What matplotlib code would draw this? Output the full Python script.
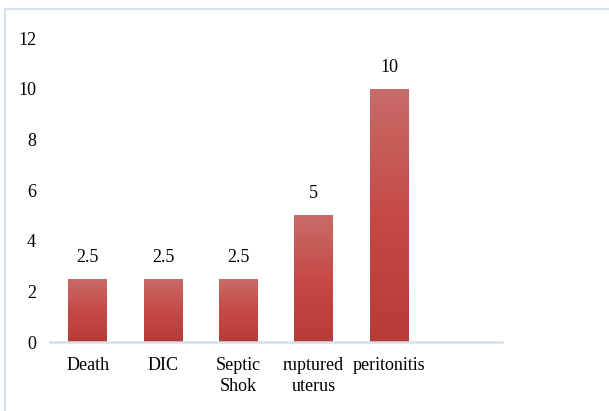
import numpy as np
import matplotlib.pyplot as plt
from matplotlib.colors import LinearSegmentedColormap
from matplotlib.patches import Rectangle

CATEGORIES = ['Death', 'DIC', 'Septic\nShok', 'ruptured\nuterus', 'peritonitis']
VALUES = [2.5, 2.5, 2.5, 5, 10]
VALUE_LABELS = ['2.5', '2.5', '2.5', '5', '10']

plt.rcParams['font.family'] = ['Liberation Serif', 'DejaVu Serif']

fig = plt.figure(figsize=(6.09, 4.11), dpi=100)

# light blue frame round the chart
fig.patches.append(Rectangle((5 / 609, -0.05), 1.2, (411 - 9) / 411 + 0.05,
                             transform=fig.transFigure, fill=False,
                             edgecolor='#d6e0ef', linewidth=1.5))

ax = fig.add_axes([50 / 609, 69 / 411, 452 / 609, 304 / 411])

grad = LinearSegmentedColormap.from_list('bar', ['#b63b39', '#c54a47', '#c86b68'])
bars = ax.bar(range(len(VALUES)), VALUES, width=0.51, color='none', zorder=2)
for b in bars:
    x0, y0 = b.get_x(), b.get_y()
    w, h = b.get_width(), b.get_height()
    img = ax.imshow(np.linspace(0, 1, 100).reshape(-1, 1), cmap=grad, origin='lower',
                    extent=[x0, x0 + w, y0, y0 + h], aspect='auto', zorder=2)
    img.set_clip_path(b)

for i, v in enumerate(VALUES):
    ax.annotate(VALUE_LABELS[i], (i, v), xytext=(0, 15.5), textcoords='offset points',
                ha='center', va='center', fontsize=13)

ax.set_xlim(-0.5, 5.5)
ax.set_ylim(0, 12)
ax.set_yticks(range(0, 13, 2))
ax.set_xticks(range(len(CATEGORIES)))
ax.set_xticklabels(CATEGORIES, fontsize=13, linespacing=1.25)
ax.tick_params(axis='y', length=0, pad=10, labelsize=13)
ax.tick_params(axis='x', length=0, pad=11)

for side in ['top', 'right', 'left']:
    ax.spines[side].set_visible(False)
ax.spines['bottom'].set_color('#d6e0ef')
ax.spines['bottom'].set_linewidth(1.8)

fig.savefig('out.png', dpi=100)
